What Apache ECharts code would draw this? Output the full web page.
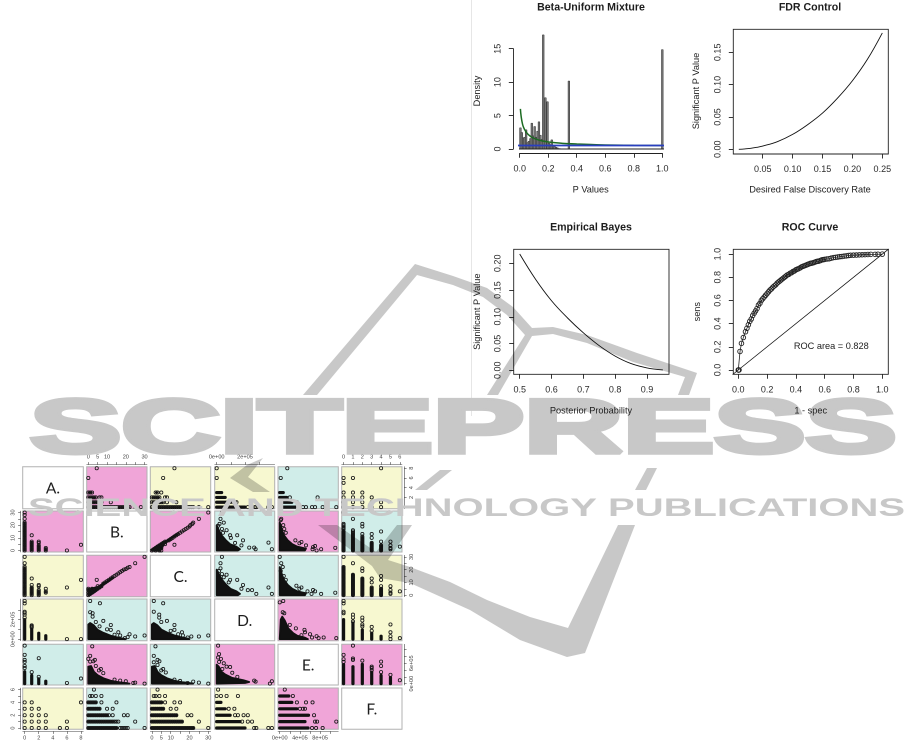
<!DOCTYPE html>
<html><head><meta charset="utf-8">
<style>html,body{margin:0;padding:0;background:#fff}#c{width:915px;height:751px;filter:blur(0.45px)}</style>
<script src="https://cdn.jsdelivr.net/npm/echarts@6/dist/echarts.min.js"></script>
</head><body><div id="c"></div>
<script>
// ---------- Data ----------
const histX = [0.005,0.015,0.025,0.035,0.045,0.055,0.065,0.075,0.085,0.095,0.105,0.115,0.125,0.135,0.145,0.155,0.165,0.18,0.195,0.205,0.215,0.225,0.235,0.245,0.255,0.265,0.28,0.345,1.0];
const histY = [3.2,2.5,1.7,1.8,2.9,1.0,1.2,1.6,3.9,2.0,3.4,1.8,2.7,4.1,2.1,1.5,17.1,7.7,7.1,0.9,0.7,1.4,0.6,0.4,0.3,0.2,0.1,10.2,14.9];
const mixX = [0.005,0.01,0.02,0.03,0.05,0.075,0.1,0.15,0.2,0.3,0.4,0.5,0.6,0.8,1.0];
const mixY = [6.0,4.9,3.7,3.1,2.4,1.9,1.6,1.25,1.05,0.85,0.75,0.67,0.6,0.55,0.52];
const uniformX = [-0.04,1.04];
const uniformY = [0.52,0.52];
const baselineY = [0,0];
const fdrX = [0.01,0.02,0.03,0.04,0.05,0.075,0.1,0.125,0.15,0.175,0.2,0.225,0.25];
const fdrY = [0,0.0006,0.0015,0.003,0.005,0.012,0.023,0.038,0.056,0.079,0.106,0.139,0.18];
const ebX = [0.5,0.55,0.6,0.65,0.7,0.75,0.8,0.85,0.9,0.95];
const ebY = [0.2174,0.17,0.13,0.098,0.07,0.046,0.0265,0.0125,0.0045,0.0006];
const rocX = [0,0.002,0.005,0.012,0.022,0.035,0.05,0.06,0.07,0.08,0.09,0.1,0.11,0.12,0.13,0.14,0.15,0.16,0.17,0.18,0.19,0.2,0.21,0.22,0.23,0.24,0.25,0.26,0.27,0.28,0.29,0.3,0.31,0.32,0.33,0.34,0.35,0.36,0.37,0.38,0.39,0.4,0.41,0.42,0.43,0.44,0.45,0.46,0.47,0.48,0.49,0.5,0.51,0.52,0.53,0.54,0.55,0.56,0.57,0.58,0.59,0.6,0.615,0.63,0.645,0.66,0.675,0.69,0.705,0.72,0.735,0.75,0.765,0.78,0.8,0.82,0.84,0.86,0.88,0.9,0.92,0.95,0.97,1];
const rocY = [0,0,0,0.16,0.23,0.28,0.33,0.36,0.39,0.42,0.44,0.47,0.49,0.51,0.53,0.56,0.575,0.6,0.615,0.63,0.645,0.66,0.675,0.69,0.7,0.715,0.725,0.735,0.75,0.76,0.77,0.78,0.79,0.8,0.81,0.82,0.825,0.835,0.84,0.85,0.855,0.865,0.87,0.875,0.882,0.89,0.895,0.9,0.905,0.91,0.915,0.92,0.922,0.925,0.93,0.935,0.938,0.94,0.945,0.95,0.952,0.955,0.958,0.96,0.965,0.97,0.972,0.975,0.978,0.98,0.983,0.985,0.988,0.99,0.991,0.992,0.994,0.995,0.996,0.997,0.998,0.998,0.999,1];
const diagX = [-0.04,1.05];
const rocAreaText = "ROC area = 0.828";

// Scatter-matrix records. D and E are in units of 1e5.
const atA = (a, vals) => vals.map(v => [a, v]);
const atF = (f, vals) => vals.map(v => [v, f]);
const ptsAB = [...atA(0,[0,1,2,3,4,5,6,7,8,9,10,11,12,13,14,15,16,17,18,19,20,21,22,25,28,30]),...atA(1,[0,1,2,3,4,5,6,7,12]),...atA(2,[0,1,2,3,4,6,7]),...atA(3,[0,1,2]),[6,0],[8,4.5]];
const spansAB = [[0,0,0,22],[1,0,1,7],[2,0,2,4],[3,0,3,2]];
const ptsAC = [...atA(0,[0,1,2,3,4,5,6,7,8,9,10,11,12,13,14,15,16,17,18,19,20,21,22,25,30]),...atA(1,[0,1,2,3,4,5,6,8,13]),...atA(2,[0,1,2,3,4,7,8]),...atA(3,[2,3,5]),[6,6],[8,12]];
const spansAC = [[0,0,0,22],[1,0,1,6],[2,0,2,4],[3,2,3,3]];
const spansAD = [[0,0,0,2.0],[1,0,1,1.0],[2,0,2,0.6],[3,0,3,0.35]];
const ptsAD = [[0,2.2],[0,2.5],[0,2.7],[0,2.8],[0,3.65],[0,3.9],[1,1.2],[1,1.3],[1,1.4],[6,0],[8,0]];
const spansAE = [[0,0,0,3.5],[1,0,1,2.4],[2,0,2,1.4],[3,0,3,0.7]];
const ptsAE = [[0,4.6],[0,5.2],[0,6.4],[0,7.0],[0,8.5],[0,11.2],[1,3.4],[2,2.0],[2,7.5],[6,0.2],[8,1.5]];
const ptsAF = [...atF(0,[0,1,2,3]),...atF(1,[0,1,2,3,6]),...atF(2,[0,1,2,3]),...atF(3,[0,1,2]),...atF(4,[0,1,8]),[5,0],[6,0]];
const ptsBC = [[0,0],[0,2],[0,4],[0,5],[1,1],[1,3],[2,2],[2,5],[3,3],[4,4],[5,5],[5,7],[6,6],[7,7],[8,9],[9,10],[10,11],[11,12],[12,13],[13,14],[14,15],[15,16],[16,17],[17,18],[18,19],[19,20],[20,20.5],[21,21.5],[22,22],[25,25],[30,30],[4.5,12]];
const polyBC = [[0,0],[0,4.5],[5,6.5],[10,11],[13,14],[13,13],[8,8],[4,3],[1,0]];
const polyBD = [[0,0],[0,1.5],[1,1.65],[3,1.4],[5,0.95],[8,0.65],[12,0.35],[15,0.2],[18,0.08],[20,0]];
const ptsBD = [[1,3.9],[6.2,3.66],[1,2.75],[2.3,2.65],[2.3,2.3],[8,1.86],[12,1.45],[12,0.95],[16,0.7],[17,0.37],[22,0.5],[25,0.27],[30,0.37],[19.5,0.1],[21,0.2],[4,1.75],[6,1.3],[10,1.0],[14,0.45]];
const polyCD = [[0,0],[0,1.5],[1,1.65],[3,1.4],[5,0.98],[8,0.68],[12,0.38],[15,0.22],[18,0.1],[20,0]];
const ptsCD = [[6,3.66],[1,3.9],[1,2.8],[3.9,2.5],[3.9,2.2],[8,1.86],[12,1.45],[12,0.95],[16,0.7],[16.5,0.37],[21,0.27],[25,0.27],[30,0.37],[19,0.17],[5,1.75],[10,0.85],[14,0.5]];
const polyBE = [[0,0],[0,5],[1.5,5.2],[3,3.5],[5,2.5],[8,1.6],[12,0.85],[16,0.45],[20,0.2],[22,0]];
const ptsBE = [[2.1,11],[0,7.3],[1,8.2],[3.5,7],[2.7,6.6],[5.7,3.9],[6.7,4.3],[8,3.1],[14,1.2],[24,0.2],[30,0],[25,0.3],[20,0.7],[17,0.9],[1,6.5],[4,5.2]];
const polyCE = [[0,0],[0,5],[1.5,5.2],[3,3.5],[5,2.5],[8,1.6],[12,0.85],[16,0.45],[20,0.2],[22,0]];
const ptsCE = [[1.9,11],[1,8.2],[3,7],[4,6.6],[5,3.9],[6,4.3],[7.4,3.3],[12,1.2],[15,0.8],[19,0.2],[22,0.6],[25,0.3],[30,0],[1,6.3],[3,5.5]];
const polyDE = [[0,0],[2,0.2],[2.3,0.5],[1.9,1],[1.1,1.7],[0.6,2.7],[0.35,3.5],[0.15,5],[0,5.6]];
const ptsDE = [[3.76,0],[3.9,0.7],[2.75,0.6],[2.65,0.9],[1.46,2],[1.1,3.2],[0.95,4.9],[0.7,5],[0.17,6.4],[0.3,7.3],[0.1,7.7],[0.17,8.7],[0.1,11.2],[0.5,6.0],[0.4,4.3]];
const spansDF = [[0,0,2.0,0],[0,1,1.65,1],[0,2,0.95,2],[0,3,0.6,3],[0,4,0.3,4]];
const ptsDF = [[2.8,0],[2.65,0],[3.65,0],[3.9,0],[1.8,1],[2.2,1],[2.5,1],[1.3,2],[1.5,2],[1.9,2],[2.2,2],[0.85,3],[1.25,3],[0,5],[0.3,5],[0.7,5],[1.5,5],[0.1,6]];
const spansEF = [[0,0,5.6,0],[0,1,5.0,1],[0,2,5.7,2],[0,3,3.4,3],[0,4,2.4,4],[0,5,1.8,5]];
const ptsEF = [[6.4,0],[7.2,0],[8.5,0],[11.2,1],[7,1],[7.4,1],[6.8,2],[4,3],[4.6,3],[5,3],[3.4,4],[5.2,4],[6.5,4],[2.6,5],[1,6]];
const ptsBF = [...atF(0,[0,1,2,3,4,5,6,7,8,9,10,11,12,13,14,15,17,18,19,20,21,30]),...atF(1,[0,1,2,3,4,5,6,7,8,9,10,11,12,13,14,15,16,25]),...atF(2,[0,1,2,3,4,5,6,7,8,9,10,11,13,19,21]),...atF(3,[0,1,2,3,4,5,6,10,13]),...atF(4,[0,1,2,3,4,7,15]),...atF(5,[1,2,4,7]),[3,6]];
const spansBF = [[0,0,15,0],[0,1,13,1],[0,2,10,2],[0,3,6,3],[0,4,4,4]];
const ptsCF = [...atF(0,[0,1,2,3,4,5,6,7,8,9,10,11,12,13,14,15,16,17,18,19,20,21,22,30]),...atF(1,[0,1,2,3,4,5,6,7,8,9,10,11,12,13,14,15,16,25]),...atF(2,[0,1,2,3,4,5,6,7,8,9,10,11,12,13,19,21]),...atF(3,[0,1,2,3,4,5,6,10,13]),...atF(4,[0,1,2,3,4,5,7,12,15]),...atF(5,[1,2,4,7]),[3,6]];
const spansCF = [[0,0,22,0],[0,1,16,1],[0,2,13,2],[0,3,6,3],[0,4,5,4]];

const matrixVars = ['A','B','C','D','E','F'];
const panelLetters = ['A.','B.','C.','D.','E.','F.'];
const matrixTicks = {A:[0,2,4,6,8],B:[0,5,10,15,20,25,30],C:[0,5,10,15,20,25,30],D:[0,1,2,3],E:[0,2,4,6,8,10],F:[0,1,2,3,4,5,6]};
const topLabels = {B:[0,5,10,20,30],D:[0,2],F:[0,1,2,3,4,5,6]};
const bottomLabels = {A:[0,2,4,6,8],C:[0,5,10,20,30],E:[0,4,8]};
const leftLabels = {B:[0,10,20,30],D:[0,2],F:[0,2,4,6]};
const rightLabels = {A:[0,2,4,6,8],C:[0,10,20,30],E:[0,6]};
const panelColors = [
 [null,'p','y','y','c','y'],
 ['p',null,'p','c','p','c'],
 ['y','p',null,'c','c','y'],
 ['y','c','c',null,'p','y'],
 ['c','p','c','p',null,'p'],
 ['y','c','y','y','p',null]];

// ---------- Layout ----------
const palette = {p:'#f0a5d8',y:'#f7f8d0',c:'#d0ede9'};
const colPx = [[22.7,83.3],[86.7,147],[150.3,210.7],[214.7,274.7],[278,338.3],[341.7,402]];
const rowPx = [[466.7,508.7],[511,552],[555.3,596.7],[599,640.7],[644.3,685],[688,729.3]];
const xRange = {A:[-0.28,8.33],B:[-0.85,31.3],C:[-0.85,31.3],D:[-0.14,4.1],E:[-0.34,11.6],F:[-0.2,6.23]};
const yRange = {A:[-0.32,8.32],B:[-1.2,31.2],C:[-1.2,31.2],D:[-0.16,4.1],E:[-0.4,11.6],F:[-0.2,6.25]};
const pairs = {
 AB:{pts:ptsAB,spans:spansAB,spanW:1.4},AC:{pts:ptsAC,spans:spansAC,spanW:1.4},AD:{pts:ptsAD,spans:spansAD},AE:{pts:ptsAE,spans:spansAE},AF:{pts:ptsAF},
 BC:{pts:ptsBC,poly:polyBC},BD:{pts:ptsBD,poly:polyBD},BE:{pts:ptsBE,poly:polyBE},BF:{pts:ptsBF,spans:spansBF,spanW:2.6},
 CD:{pts:ptsCD,poly:polyCD},CE:{pts:ptsCE,poly:polyCE},CF:{pts:ptsCF,spans:spansCF,spanW:2.6},
 DE:{pts:ptsDE,poly:polyDE},DF:{pts:ptsDF,spans:spansDF},EF:{pts:ptsEF,spans:spansEF}};

const SANS = '"Liberation Sans",Arial,sans-serif';
const grids=[],xAxes=[],yAxes=[],series=[],graphics=[];
const fix = (d) => v => v.toFixed(d);
function rAxis(ticks, fmt, extra){
  return Object.assign({type:'value',splitLine:{show:false},
    axisLine:{show:false,onZero:false,lineStyle:{color:'#222',width:0.9}},
    axisTick:{show:true,length:4.5,customValues:ticks,lineStyle:{color:'#222',width:0.9}},
    axisLabel:{show:true,customValues:ticks,formatter:fmt,fontFamily:SANS,fontSize:9,color:'#2b2b2b',margin:11}},extra);
}
function rPlot(g,x,y){
  const i=grids.length;
  grids.push(Object.assign({containLabel:false,backgroundColor:'transparent',show:true,borderColor:'#222',borderWidth:0.9},g));
  xAxes.push(Object.assign(x,{gridIndex:i}));
  yAxes.push(Object.assign(y,{gridIndex:i}));
  y.axisLabel.rotate=90;
  return i;
}
const zip=(a,b)=>a.map((v,i)=>[v,b[i]]);
function label(text,x,y,font,rot){
  graphics.push({type:'text',x,y,rotation:rot?Math.PI/2:0,silent:true,z:50,
    style:{text,font,fill:'#1e1e1e',textAlign:'center',textVerticalAlign:'middle'}});
}
const TB='bold 10.6px '+SANS, F9='9.2px '+SANS;

// Beta-uniform mixture
let gi=rPlot({left:519.7,top:48.7,width:142.6,height:100.3,show:false},
 rAxis([0,0.2,0.4,0.6,0.8,1],fix(1),{min:0,max:1,offset:4.3,axisLine:{show:true,onZero:false,lineStyle:{color:'#222',width:0.9}}}),
 rAxis([0,5,10,15],v=>String(v),{min:0,max:15,offset:6.4,axisLine:{show:true,onZero:false,lineStyle:{color:'#222',width:0.9}}}));
series.push({type:'bar',xAxisIndex:gi,yAxisIndex:gi,data:zip(histX,histY),barWidth:2.2,clip:false,itemStyle:{color:'#777',borderColor:'#333',borderWidth:0.5},silent:true});
series.push({type:'line',xAxisIndex:gi,yAxisIndex:gi,data:zip(uniformX,baselineY),showSymbol:false,clip:false,lineStyle:{color:'#222',width:0.9},silent:true});
series.push({type:'line',xAxisIndex:gi,yAxisIndex:gi,data:zip(mixX,mixY),smooth:true,showSymbol:false,clip:false,lineStyle:{color:'#1c6b22',width:1.5},silent:true});
series.push({type:'line',xAxisIndex:gi,yAxisIndex:gi,data:zip(uniformX,uniformY),showSymbol:false,clip:false,lineStyle:{color:'#2a3fc0',width:1.8},silent:true});
label('Beta-Uniform Mixture',591,7.7,TB);label('P Values',590.7,190,F9);label('Density',477.7,91,F9,true);

// FDR
gi=rPlot({left:733.3,top:29.3,width:155,height:124.7},
 rAxis([0.05,0.1,0.15,0.2,0.25],fix(2),{min:0.0008,max:0.26}),
 rAxis([0,0.05,0.1,0.15],fix(2),{min:-0.0073,max:0.1856}));
series.push({type:'line',xAxisIndex:gi,yAxisIndex:gi,data:zip(fdrX,fdrY),smooth:0.4,showSymbol:false,lineStyle:{color:'#111',width:0.9},silent:true});
label('FDR Control',810,7.7,TB);label('Desired False Discovery Rate',810,190,F9);label('Significant P Value',696.7,91,F9,true);

// Empirical Bayes
gi=rPlot({left:513.7,top:249.3,width:155.3,height:125},
 rAxis([0.5,0.6,0.7,0.8,0.9],fix(1),{min:0.4811,max:0.9692}),
 rAxis([0,0.05,0.1,0.15,0.2],fix(2),{min:-0.0075,max:0.2262}));
series.push({type:'line',xAxisIndex:gi,yAxisIndex:gi,data:zip(ebX,ebY),smooth:0.4,showSymbol:false,lineStyle:{color:'#111',width:0.9},silent:true});
label('Empirical Bayes',591,227.7,TB);label('Posterior Probability',591,411,F9);label('Significant P Value',477.3,311.7,F9,true);

// ROC
gi=rPlot({left:733.3,top:249.3,width:155,height:125},
 rAxis([0,0.2,0.4,0.6,0.8,1],fix(1),{min:-0.0347,max:1.0417}),
 rAxis([0,0.2,0.4,0.6,0.8,1],fix(1),{min:-0.0372,max:1.0416}));
series.push({type:'line',xAxisIndex:gi,yAxisIndex:gi,data:zip(diagX,diagX),showSymbol:false,lineStyle:{color:'#111',width:0.8},silent:true});
series.push({type:'line',xAxisIndex:gi,yAxisIndex:gi,data:zip(rocX,rocY),showSymbol:true,showAllSymbol:true,symbol:'circle',symbolSize:4.6,
  itemStyle:{color:'transparent',borderColor:'#222',borderWidth:0.9},lineStyle:{color:'#222',width:0.8},silent:true});
label('ROC Curve',810,227.7,TB);label('1 - spec',810.7,411,F9);label('sens',697.3,311.7,F9,true);label(rocAreaText,831.3,346.7,F9);

// Scatter matrix
const expFmt = v => v===0 ? '0e+00' : v+'e+05';
function mAxis(name,rng,labels,pos,isY){
  const ax={type:'value',min:rng[0],max:rng[1],splitLine:{show:false},show:!!labels,position:pos||(isY?'left':'bottom')};
  if(labels){
    Object.assign(ax,{offset:2,
      axisLine:{show:true,onZero:false,lineStyle:{color:'#444',width:0.6}},
      axisTick:{show:true,length:2.6,customValues:matrixTicks[name],lineStyle:{color:'#444',width:0.6}},
      axisLabel:{show:true,customValues:labels,fontFamily:SANS,fontSize:5.6,color:'#444',
        margin:pos==='bottom'?3.6:4.6,rotate:isY?90:0,
        formatter:(name==='D'||name==='E')?expFmt:(v=>String(v))}});
  } else {
    ax.axisLine={show:false,onZero:false};ax.axisTick={show:false};ax.axisLabel={show:false};
  }
  return ax;
}
matrixVars.forEach((yv,r)=>{
  matrixVars.forEach((xv,c)=>{
    const i=grids.length;
    const col=colPx[c],row=rowPx[r];
    const tone=panelColors[r][c];
    grids.push({left:col[0],top:row[0],width:col[1]-col[0],height:row[1]-row[0],show:true,
      backgroundColor:tone?palette[tone]:'#fff',borderColor:'#b2b2b2',borderWidth:1});
    let xl=null,xp='bottom',yl=null,yp='left';
    if(r===0&&c%2===1){xl=topLabels[xv];xp='top';}
    if(r===5&&c%2===0){xl=bottomLabels[xv];xp='bottom';}
    if(c===0&&r%2===1){yl=leftLabels[yv];yp='left';}
    if(c===5&&r%2===0){yl=rightLabels[yv];yp='right';}
    xAxes.push(Object.assign(mAxis(xv,xRange[xv],xl,xp,false),{gridIndex:i}));
    yAxes.push(Object.assign(mAxis(yv,yRange[yv],yl,yp,true),{gridIndex:i}));
    if(r===c){label(panelLetters[r],(col[0]+col[1])/2,(row[0]+row[1])/2+1,'15.5px Lato',false);return;}
    const swap=c>r;
    const pair=pairs[swap?yv+xv:xv+yv];
    const order=p=>swap?[p[1],p[0]]:[p[0],p[1]];
    if(pair.poly){
      const verts=pair.poly.map(order);
      series.push({type:'custom',xAxisIndex:i,yAxisIndex:i,data:verts,silent:true,
        renderItem:(p,api)=>p.dataIndex===0?{type:'polygon',shape:{points:verts.map(v=>api.coord(v))},style:{fill:'#111',stroke:'#111',lineWidth:1.8,lineJoin:'round'}}:null});
    }
    if(pair.spans){
      const segs=pair.spans,w=pair.spanW||3.2;
      series.push({type:'custom',xAxisIndex:i,yAxisIndex:i,data:segs.map(s=>order(s)),silent:true,
        renderItem:(p,api)=>{const s=segs[p.dataIndex];const a=api.coord(order([s[0],s[1]]));const b=api.coord(order([s[2],s[3]]));
          return {type:'line',shape:{x1:a[0],y1:a[1],x2:b[0],y2:b[1]},style:{stroke:'#111',lineWidth:w,lineCap:'round'}};}});
    }
    series.push({type:'scatter',xAxisIndex:i,yAxisIndex:i,data:pair.pts.map(order),symbol:'circle',symbolSize:3.2,silent:true,
      itemStyle:{color:'transparent',borderColor:'#161616',borderWidth:0.8,opacity:1}});
  });
});

// Watermark and page furniture
const WM='rgb(200,200,200)';
const wmPoly=pts=>graphics.push({type:'polygon',silent:true,z:40,shape:{points:pts},style:{fill:WM,blend:'multiply'}});
wmPoly([[303,395],[415,264],[453,276],[487,288],[513,307],[532,328],[553,327],[587,335],[637,353],[697,373],[689,395],[678,395],[685,377],[633,362],[587,343],[553,334],[532,336],[498,395],[487,395],[525,335],[507,315],[483,297],[453,285],[417,275],[317,395]]);
wmPoly([[647,468],[657,468],[646,490],[635,490]]);
wmPoly([[440,470],[452,470],[427,490],[415,490]]);
wmPoly([[230,478],[247,465],[263,458],[248,477],[270,492],[253,492]]);
wmPoly([[318,525],[337,525],[376,552],[397,525],[412,525],[388,560],[410,567],[450,582],[487,600],[530,617],[568,628],[618,525],[635,525],[585,653],[567,657],[520,640],[470,610],[410,583],[380,578],[372,566]]);
graphics.push({type:'text',x:30,y:431.5,scaleX:1.8,silent:true,z:40,style:{text:'SCITEPRESS',font:'bold 76px "Liberation Sans"',fill:WM,stroke:WM,lineWidth:4.5,textAlign:'left',textVerticalAlign:'middle',blend:'multiply'}});
graphics.push({type:'text',x:28,y:509,scaleX:1.6,silent:true,z:40,style:{text:'SCIENCE AND TECHNOLOGY PUBLICATIONS',font:'bold 25px "Liberation Sans"',fill:WM,textAlign:'left',textVerticalAlign:'middle',blend:'multiply'}});
graphics.push({type:'line',silent:true,z:1,shape:{x1:471.5,y1:0,x2:471.5,y2:416},style:{stroke:'#e6e6e6',lineWidth:1}});

const chart=echarts.init(document.getElementById('c'),null,{renderer:'canvas',devicePixelRatio:2});
chart.setOption({animation:false,backgroundColor:'#fff',tooltip:{show:false},legend:{show:false},
  grid:grids,xAxis:xAxes,yAxis:yAxes,series,graphic:{elements:graphics}});
</script></body></html>
